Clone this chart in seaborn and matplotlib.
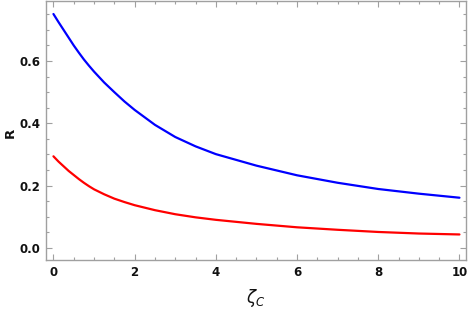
import numpy as np
import pandas as pd
import matplotlib
matplotlib.use("Agg")
import matplotlib.pyplot as plt
from matplotlib.ticker import MultipleLocator
import seaborn as sns

# data
zeta_c = [0, 0.125, 0.25, 0.375, 0.5, 0.625, 0.75, 0.875, 1, 1.25, 1.5, 1.75,
          2, 2.5, 3, 3.5, 4, 5, 6, 7, 8, 9, 10]
r_blue = [0.751, 0.725, 0.700, 0.675, 0.650, 0.627, 0.605, 0.585, 0.566,
          0.531, 0.500, 0.470, 0.443, 0.395, 0.356, 0.326, 0.301, 0.264,
          0.233, 0.209, 0.189, 0.174, 0.161]
r_red = [0.294, 0.277, 0.262, 0.247, 0.234, 0.221, 0.209, 0.198, 0.188,
         0.172, 0.158, 0.147, 0.137, 0.121, 0.108, 0.098, 0.090, 0.077,
         0.066, 0.058, 0.051, 0.046, 0.043]
series_names = ["upper", "lower"]
series_colors = ["#0000ff", "#ff0000"]

df = pd.concat([
    pd.DataFrame({"zeta": zeta_c, "R": r_blue, "series": series_names[0]}),
    pd.DataFrame({"zeta": zeta_c, "R": r_red, "series": series_names[1]}),
])

sns.set_style("ticks")
plt.rcParams["font.family"] = ["DejaVu Sans"]

fig = plt.figure(figsize=(4.69, 3.09), dpi=100)
ax = fig.add_axes([0.0975, 0.1586, 0.896, 0.8394])

sns.lineplot(data=df, x="zeta", y="R", hue="series",
             palette=dict(zip(series_names, series_colors)),
             linewidth=1.6, legend=False, ax=ax, sort=False)

ax.set_xlim(-0.19, 10.16)
ax.set_ylim(-0.039, 0.794)
ax.xaxis.set_minor_locator(MultipleLocator(0.5))
ax.yaxis.set_minor_locator(MultipleLocator(0.05))
ax.set_xticks([0, 2, 4, 6, 8, 10])
ax.set_xticklabels(["0", "2", "4", "6", "8", "10"])
ax.set_yticks([0.0, 0.2, 0.4, 0.6])
ax.set_yticklabels(["0.0", "0.2", "0.4", "0.6"])

frame_col = "#a0a0a0"
for s in ax.spines.values():
    s.set_color(frame_col)
    s.set_linewidth(1.0)
ax.tick_params(which="both", direction="in", top=True, right=True,
               color=frame_col, width=0.8)
ax.tick_params(which="major", length=4)
ax.tick_params(which="minor", length=2.5)
ax.tick_params(axis="both", which="major", labelsize=8.5, pad=4, labelcolor="#111111")
for lab in ax.get_xticklabels() + ax.get_yticklabels():
    lab.set_fontweight("bold")

ax.set_xlabel(r"$\zeta_C$", fontsize=12, labelpad=6, color="#111111")
ax.set_ylabel("R", fontsize=9.5, color="#111111", fontweight="bold",
              va="center", ha="center")
ax.yaxis.set_label_coords(-0.085, 0.49)

fig.savefig("out.png", dpi=100)
